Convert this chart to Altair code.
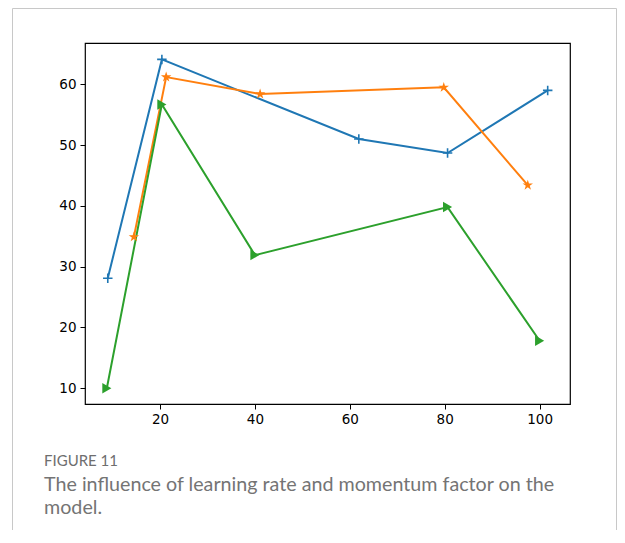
import altair as alt
import pandas as pd

# Data
blue_x = [9.0, 20.4, 61.9, 80.6, 101.7]
blue_y = [28.1, 64.1, 51.0, 48.7, 59.0]
orange_x = [14.5, 21.3, 41.1, 79.8, 97.5]
orange_y = [34.9, 61.2, 58.4, 59.5, 43.4]
green_x = [8.8, 20.4, 40.0, 80.6, 100.0]
green_y = [10.0, 56.7, 31.9, 39.8, 17.8]

x_ticks = [20, 40, 60, 80, 100]
y_ticks = [10, 20, 30, 40, 50, 60]

series_names = ["s1", "s2", "s3"]
series_colors = ["#1f77b4", "#ff7f0e", "#2ca02c"]

caption_label = "FIGURE 11"
caption_line1 = "The influence of learning rate and momentum factor on the"
caption_line2 = "model."

rows = []
for name, xs, ys in zip(series_names, [blue_x, orange_x, green_x], [blue_y, orange_y, green_y]):
    for i, (a, b) in enumerate(zip(xs, ys)):
        rows.append({"series": name, "x": a, "y": b, "i": i})
df = pd.DataFrame(rows)

W, H = 485, 361

xs = alt.X("x:Q", scale=alt.Scale(domain=[4.2, 106.4], nice=False, zero=False),
           axis=alt.Axis(values=x_ticks, title=None, grid=False, domain=False,
                         tickColor="black", tickSize=5, tickWidth=1, labelPadding=3,
                         labelFont="DejaVu Sans", labelFontSize=13.5, labelColor="black"))
ys = alt.Y("y:Q", scale=alt.Scale(domain=[7.4, 66.8], nice=False, zero=False),
           axis=alt.Axis(values=y_ticks, title=None, grid=False, domain=False,
                         tickColor="black", tickSize=5, tickWidth=1, labelPadding=4,
                         labelFont="DejaVu Sans", labelFontSize=13.5, labelColor="black"))
color = alt.Color("series:N", scale=alt.Scale(domain=series_names, range=series_colors), legend=None)

base = alt.Chart(df)

lines = base.mark_line(strokeWidth=2).encode(x=xs, y=ys, color=color, detail="series:N", order="i:Q")

plus_path = "M-1,0L1,0M0,-1L0,1"
star_path = ("M0,-1L0.2245,-0.309L0.9511,-0.309L0.3633,0.118L0.5878,0.809L0,0.382"
             "L-0.5878,0.809L-0.3633,0.118L-0.9511,-0.309L-0.2245,-0.309Z")

p_blue = base.transform_filter(alt.datum.series == "s1").mark_point(
    shape=plus_path, filled=False, size=90, strokeWidth=1.6, opacity=1).encode(x=xs, y=ys, color=color)
p_orange = base.transform_filter(alt.datum.series == "s2").mark_point(
    shape=star_path, filled=True, size=120, opacity=1).encode(x=xs, y=ys, color=color)
p_green = base.transform_filter(alt.datum.series == "s3").mark_point(
    shape="triangle-right", filled=True, size=110, opacity=1).encode(x=xs, y=ys, color=color)

one = alt.Chart(pd.DataFrame({"a": [0]}))

BOTTOM = 126
frame_color = "#c8c8c8"
frame_left = one.mark_rule(color=frame_color, strokeWidth=1).encode(
    x=alt.value(-72.5), y=alt.value(-34.5), y2=alt.value(H + BOTTOM))
frame_top = one.mark_rule(color=frame_color, strokeWidth=1).encode(
    x=alt.value(-72.5), x2=alt.value(531.5), y=alt.value(-34.5))
frame_right = one.mark_rule(color=frame_color, strokeWidth=1).encode(
    x=alt.value(531.5), y=alt.value(-34.5), y2=alt.value(H + BOTTOM))

t0 = one.mark_text(text=caption_label, align="left", baseline="alphabetic",
                   font="Lato", fontSize=15, color="#6e6e6e").encode(
    x=alt.value(-41), y=alt.value(423))
t1 = one.mark_text(text=caption_line1, align="left", baseline="alphabetic",
                   font="Lato", fontSize=19.7, color="#747474").encode(
    x=alt.value(-41), y=alt.value(448))
t2 = one.mark_text(text=caption_line2, align="left", baseline="alphabetic",
                   font="Lato", fontSize=19.7, color="#747474").encode(
    x=alt.value(-41), y=alt.value(471))

chart = alt.layer(frame_left, frame_top, frame_right, lines, p_blue, p_orange, p_green, t0, t1, t2).properties(
    width=W, height=H,
    background="white",
    autosize=alt.AutoSizeParams(type="none"),
    padding={"left": 77, "top": 35, "right": 47, "bottom": BOTTOM},
).configure_view(stroke="black", strokeWidth=1.2)

chart.save("out.html", embed_options={"renderer": "svg", "actions": False})
